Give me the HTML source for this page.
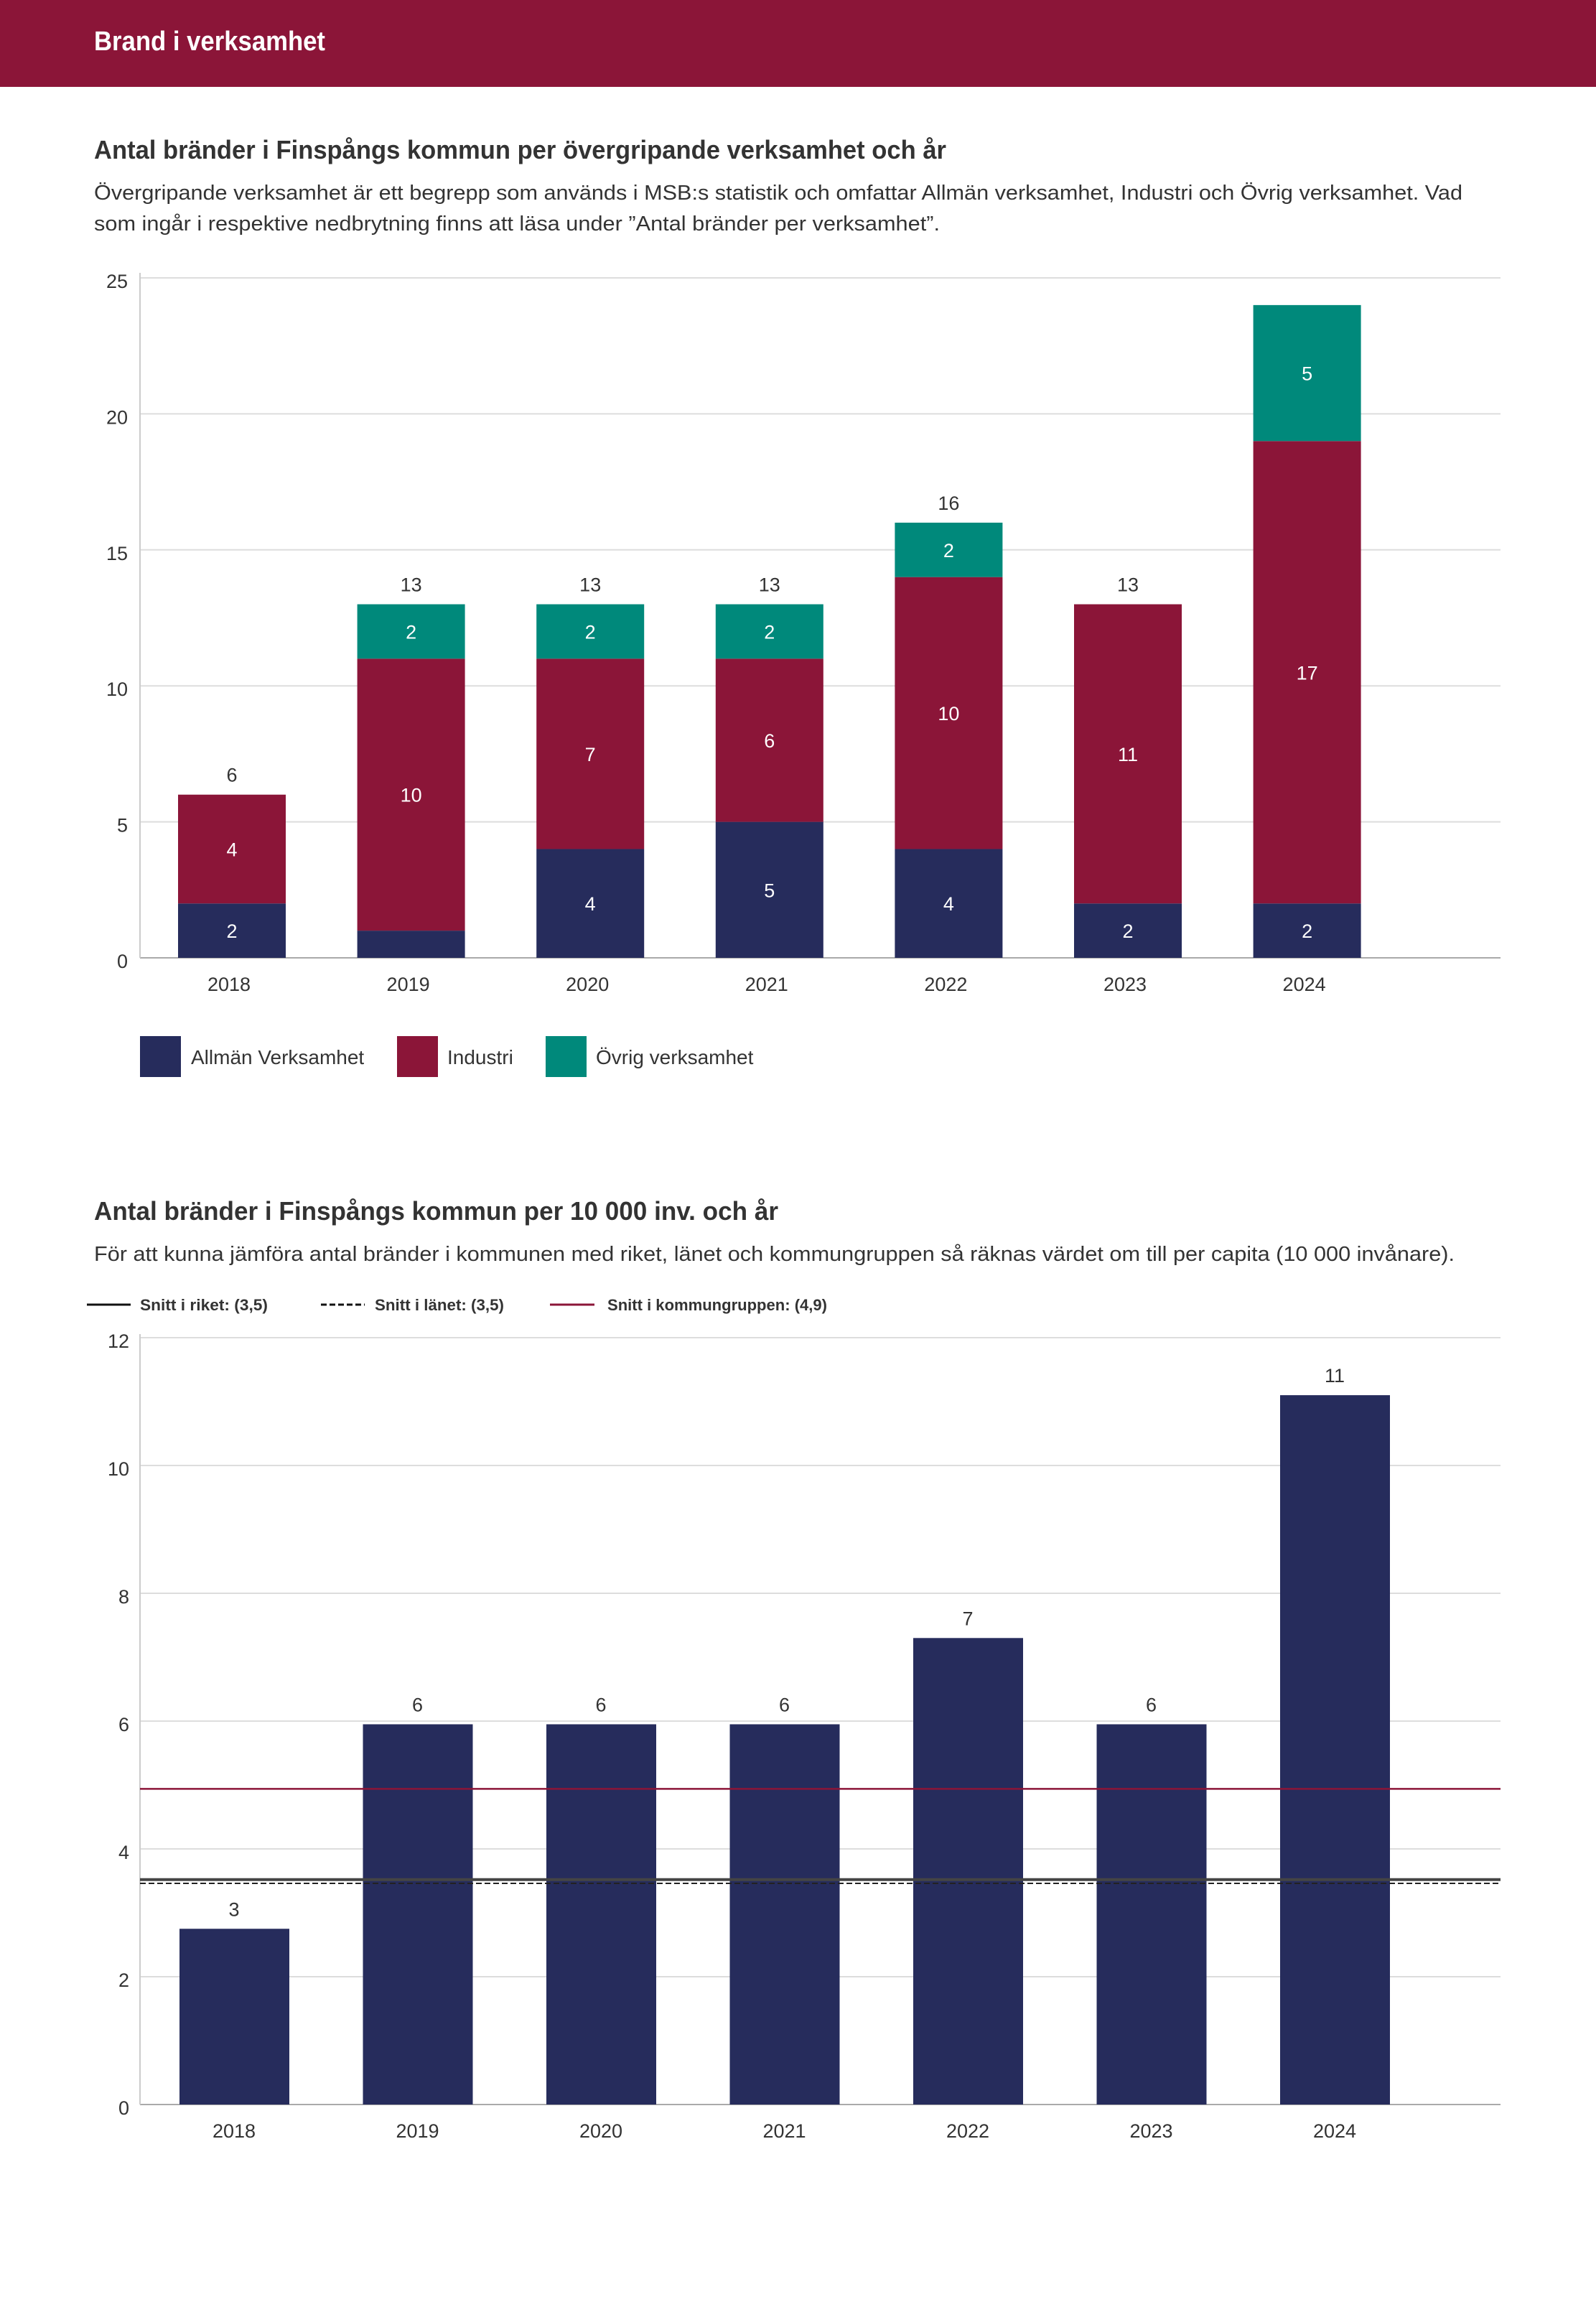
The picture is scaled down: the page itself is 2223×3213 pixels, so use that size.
<!DOCTYPE html>
<html><head><meta charset="utf-8"><style>
html,body{margin:0;padding:0;background:#fff}
svg{display:block;font-family:"Liberation Sans",sans-serif}
</style></head><body>
<svg id="page" width="2223" height="3213" viewBox="0 0 2223 3213">
<rect x="0" y="0" width="2223" height="121" fill="#8b1538"/>
<text x="131" y="70" font-size="38" font-weight="bold" fill="#fff" textLength="322" lengthAdjust="spacingAndGlyphs">Brand i verksamhet</text>

<text x="131" y="221" font-size="36" font-weight="bold" fill="#333" textLength="1187" lengthAdjust="spacingAndGlyphs">Antal bränder i Finspångs kommun per övergripande verksamhet och år</text>
<text x="131" y="278" font-size="29" fill="#333" textLength="1906" lengthAdjust="spacingAndGlyphs">Övergripande verksamhet är ett begrepp som används i MSB:s statistik och omfattar Allmän verksamhet, Industri och Övrig verksamhet. Vad</text>
<text x="131" y="321" font-size="29" fill="#333" textLength="1178" lengthAdjust="spacingAndGlyphs">som ingår i respektive nedbrytning finns att läsa under ”Antal bränder per verksamhet”.</text>
<g id="c1"></g>
<g id="l1">
<rect x="195" y="1443" width="57" height="57" fill="#262c5c"/>
<text x="266" y="1482" font-size="28" fill="#333">Allmän Verksamhet</text>
<rect x="553" y="1443" width="57" height="57" fill="#8b1538"/>
<text x="623" y="1482" font-size="28" fill="#333">Industri</text>
<rect x="760" y="1443" width="57" height="57" fill="#00897b"/>
<text x="830" y="1482" font-size="28" fill="#333">Övrig verksamhet</text>
</g>

<text x="131" y="1699" font-size="36" font-weight="bold" fill="#333" textLength="953" lengthAdjust="spacingAndGlyphs">Antal bränder i Finspångs kommun per 10 000 inv. och år</text>
<text x="131" y="1756" font-size="29" fill="#333" textLength="1895" lengthAdjust="spacingAndGlyphs">För att kunna jämföra antal bränder i kommunen med riket, länet och kommungruppen så räknas värdet om till per capita (10 000 invånare).</text>
<g>
<line x1="121" y1="1817" x2="182" y2="1817" stroke="#111" stroke-width="3"/>
<text x="195" y="1825" font-size="22" font-weight="bold" fill="#333" textLength="178" lengthAdjust="spacingAndGlyphs">Snitt i riket: (3,5)</text>
<line x1="447" y1="1817" x2="508" y2="1817" stroke="#111" stroke-width="3" stroke-dasharray="8,4"/>
<text x="522" y="1825" font-size="22" font-weight="bold" fill="#333" textLength="180" lengthAdjust="spacingAndGlyphs">Snitt i länet: (3,5)</text>
<line x1="766" y1="1817" x2="828" y2="1817" stroke="#8b1538" stroke-width="3"/>
<text x="846" y="1825" font-size="22" font-weight="bold" fill="#333" textLength="306" lengthAdjust="spacingAndGlyphs">Snitt i kommungruppen: (4,9)</text>
</g>
<g id="c2"></g>
</svg>
<script>
const years = ['2018','2019','2020','2021','2022','2023','2024'];
const allman = [2,1,4,5,4,2,2];
const industri = [4,10,7,6,10,11,17];
const ovrig = [0,2,2,2,2,0,5];
const ticks1 = [0,5,10,15,20,25];
const perCapita = [2.75,5.95,5.95,5.95,7.3,5.95,11.1];
const perCapitaLabels = ['3','6','6','6','7','6','11'];
const ticks2 = [0,2,4,6,8,10,12];
const refRiket = [3.52];
const refLanet = [3.46];
const refKommungrupp = [4.94];

const NS='http://www.w3.org/2000/svg';
function mk(tag, attrs, parent, txt){const e=document.createElementNS(NS,tag);for(const k in attrs)e.setAttribute(k,attrs[k]);if(txt!==undefined)e.textContent=txt;parent.appendChild(e);return e;}

// Chart 1
const c1=document.getElementById('c1');
const y1=v=>1334-(v/25)*(1334-387);
const x1=i=>323+i*249.6;
ticks1.forEach(t=>{
  const g=mk('line',{x1:195,x2:2090,y1:y1(t),y2:y1(t),stroke:t===0?'#aaa':'#ddd','stroke-width':2},c1);
  
  
  const l=mk('text',{x:178,y:y1(t)+14,'font-size':27,fill:'#333','text-anchor':'end'},c1,String(t));
  
  
});
const ax1=mk('line',{x1:195,x2:195,y1:380,y2:1334,stroke:'#ccc','stroke-width':2},c1);


const series=[[allman,'#262c5c','allman'],[industri,'#8b1538','industri'],[ovrig,'#00897b','ovrig']];
years.forEach((yr,i)=>{
  let base=0;
  series.forEach(([arr,col,nm])=>{
    const v=arr[i];
    if(v>0){
      const r=mk('rect',{x:x1(i)-75,y:y1(base+v),width:150,height:y1(base)-y1(base+v),fill:col},c1);
      
      
      if(v>=2){
        const t=mk('text',{x:x1(i),y:(y1(base)+y1(base+v))/2+10,'font-size':27,fill:'#fff','text-anchor':'middle'},c1,String(v));
        
        
      }
    }
    base+=v;
  });
  if(y1(base)-18 > 387+40){
    const tot=mk('text',{x:x1(i),y:y1(base)-18,'font-size':27,fill:'#333','text-anchor':'middle'},c1,String(base));
    
    
  }
  const xl=mk('text',{x:x1(i)-4,y:1380,'font-size':27,fill:'#333','text-anchor':'middle'},c1,yr);
  
  
});

// Chart 2
const c2=document.getElementById('c2');
const y2=v=>2931-(v/12)*(2931-1863);
const x2=i=>326+i*255.5;
ticks2.forEach(t=>{
  const g=mk('line',{x1:195,x2:2090,y1:y2(t),y2:y2(t),stroke:t===0?'#aaa':'#ddd','stroke-width':2},c2);
  
  
  const l=mk('text',{x:180,y:y2(t)+14,'font-size':27,fill:'#333','text-anchor':'end'},c2,String(t));
  
  
});
const ax2=mk('line',{x1:195,x2:195,y1:1858,y2:2931,stroke:'#ccc','stroke-width':2},c2);


years.forEach((yr,i)=>{
  const r=mk('rect',{x:x2(i)-76,y:y2(perCapita[i]),width:153,height:y2(0)-y2(perCapita[i]),fill:'#262c5c'},c2);
  
  
  const t=mk('text',{x:x2(i),y:y2(perCapita[i])-18,'font-size':27,fill:'#333','text-anchor':'middle'},c2,perCapitaLabels[i]);
  
  
  const xl=mk('text',{x:x2(i),y:2977,'font-size':27,fill:'#333','text-anchor':'middle'},c2,yr);
  
  
});
const lk=mk('line',{x1:195,x2:2090,y1:y2(refKommungrupp[0]),y2:y2(refKommungrupp[0]),stroke:'#8b1538','stroke-width':2.5},c2);


const lr=mk('line',{x1:195,x2:2090,y1:y2(refRiket[0]),y2:y2(refRiket[0]),stroke:'#444','stroke-width':4},c2);


const ll=mk('line',{x1:195,x2:2090,y1:y2(refLanet[0]),y2:y2(refLanet[0]),stroke:'#222','stroke-width':2,'stroke-dasharray':'8,4'},c2);


</script>
</body></html>
